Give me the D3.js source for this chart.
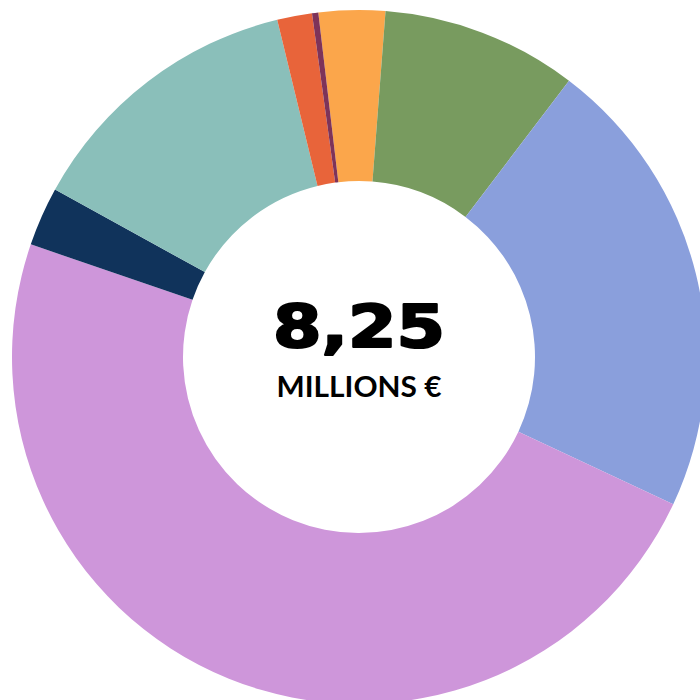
<!DOCTYPE html>
<html>
<head>
<meta charset="utf-8">
<script src="https://cdn.jsdelivr.net/npm/d3@7"></script>
<style>
  html, body { margin: 0; padding: 0; background: #ffffff; }
  svg { display: block; }
</style>
</head>
<body>
<svg id="chart" width="700" height="700"></svg>
<script>
// Data (millions €), clockwise from the segment just left of 12 o'clock
const categories = ["Orange", "Vert", "Bleu", "Mauve", "Marine", "Turquoise", "Rouge", "Violet"];
const values = [0.255, 0.753, 1.784, 3.984, 0.227, 1.089, 0.134, 0.024];
const colors = ["#FBA64B", "#789B5F", "#8A9FDC", "#CE96DA", "#10335B", "#8ABFBA", "#E8643A", "#7E3359"];
const totalLabel = "8,25";
const unitLabel = "MILLIONS €";

const svg = d3.select("#chart");
const cx = 359, cy = 357, outerR = 347, innerR = 176;
const startDeg = -6.74;

const pie = d3.pie()
  .sort(null)
  .value(d => d)
  .startAngle(startDeg * Math.PI / 180)
  .endAngle((startDeg + 360) * Math.PI / 180);

const arc = d3.arc().innerRadius(innerR).outerRadius(outerR);
const color = d3.scaleOrdinal().domain(categories).range(colors);

const g = svg.append("g").attr("transform", `translate(${cx},${cy})`);

g.selectAll("path")
  .data(pie(values))
  .join("path")
  .attr("d", arc)
  .attr("fill", (d, i) => color(categories[i]));

g.append("text")
  .attr("x", 0)
  .attr("y", -10)
  .attr("text-anchor", "middle")
  .attr("font-family", "DejaVu Sans")
  .attr("font-weight", "bold")
  .attr("font-size", 58)
  .attr("textLength", 172)
  .attr("lengthAdjust", "spacingAndGlyphs")
  .attr("fill", "#000")
  .attr("stroke", "#000")
  .attr("stroke-width", 2.2)
  .attr("stroke-linejoin", "round")
  .text(totalLabel);

g.append("text")
  .attr("x", 0)
  .attr("y", 39.5)
  .attr("text-anchor", "middle")
  .attr("font-family", "Lato")
  .attr("font-weight", "bold")
  .attr("font-size", 28)
  .attr("textLength", 165)
  .attr("lengthAdjust", "spacingAndGlyphs")
  .attr("fill", "#000")
  .text(unitLabel);
</script>
</body>
</html>
